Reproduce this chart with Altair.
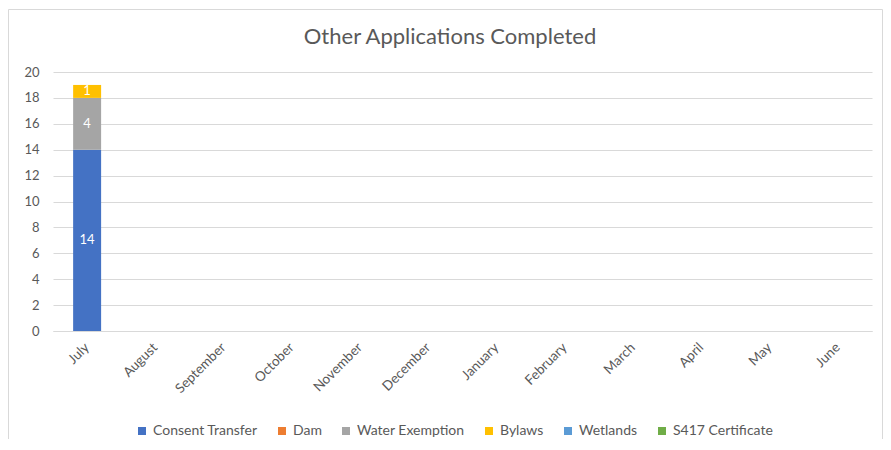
import altair as alt
import pandas as pd

months = ["July", "August", "September", "October", "November", "December",
          "January", "February", "March", "April", "May", "June"]
series = ["Consent Transfer", "Dam", "Water Exemption", "Bylaws", "Wetlands", "S417 Certificate"]
colors = ["#4472C4", "#ED7D31", "#A5A5A5", "#FFC000", "#5B9BD5", "#70AD47"]
y_ticks = [0, 2, 4, 6, 8, 10, 12, 14, 16, 18, 20]
title_text = ["Other Applications Completed"]

consent_transfer = [14, 0, 0, 0, 0, 0, 0, 0, 0, 0, 0, 0]
dam = [0, 0, 0, 0, 0, 0, 0, 0, 0, 0, 0, 0]
water_exemption = [4, 0, 0, 0, 0, 0, 0, 0, 0, 0, 0, 0]
bylaws = [1, 0, 0, 0, 0, 0, 0, 0, 0, 0, 0, 0]
wetlands = [0, 0, 0, 0, 0, 0, 0, 0, 0, 0, 0, 0]
s417 = [0, 0, 0, 0, 0, 0, 0, 0, 0, 0, 0, 0]

values = [consent_transfer, dam, water_exemption, bylaws, wetlands, s417]
rows = []
for si, (s, vals) in enumerate(zip(series, values)):
    for m, v in zip(months, vals):
        rows.append({"month": m, "series": s, "order": si, "value": v})
df = pd.DataFrame(rows)

FONT = "Lato"
GREY = "#595959"

y_axis = alt.Axis(values=y_ticks, domain=False, ticks=False, labelOverlap=False,
                  gridColor="#d9d9d9", labelColor=GREY, labelFontSize=13,
                  labelFont=FONT, labelPadding=14)
y_scale = alt.Scale(domain=[0, 20])
x_axis = alt.Axis(labelAngle=-45, labelAlign="right", labelBaseline="middle",
                  labelPadding=14, ticks=False, domainColor="#d9d9d9",
                  labelColor=GREY, labelFontSize=13.5, labelFont=FONT, grid=False)
x_scale = alt.Scale(paddingInner=0.59, paddingOuter=0.295)

bars = alt.Chart(df).mark_bar().encode(
    x=alt.X("month:N", sort=months, title=None, scale=x_scale, axis=x_axis),
    y=alt.Y("sum(value):Q", stack="zero", title=None, scale=y_scale, axis=y_axis),
    color=alt.Color("series:N", scale=alt.Scale(domain=series, range=colors),
                    legend=alt.Legend(orient="none", legendX=82, legendY=352,
                                      direction="horizontal", columns=6, title=None,
                                      symbolType="square", symbolSize=64,
                                      symbolStrokeWidth=0, labelFont=FONT,
                                      labelFontSize=14, labelColor=GREY,
                                      columnPadding=17, labelOffset=4)),
    order=alt.Order("order:Q"),
)

labels = alt.Chart(df).transform_filter(alt.datum.value > 0).mark_text(
    color="white", fontSize=13, font=FONT
).encode(
    x=alt.X("month:N", sort=months, title=None, scale=x_scale, axis=x_axis),
    y=alt.Y("sum(value):Q", stack="zero", bandPosition=0.5, title=None,
            scale=y_scale, axis=y_axis),
    detail="series:N",
    order=alt.Order("order:Q"),
    text=alt.Text("sum(value):Q"),
)

frame = alt.Chart(pd.DataFrame({"a": [0]})).mark_rect(
    fill=None, stroke="#d9d9d9", strokeWidth=1
).encode(
    x=alt.value(-44.5), x2=alt.value(829.5), y=alt.value(-62.5), y2=alt.value(369)
)

title = alt.Chart(pd.DataFrame({"t": title_text})).mark_text(
    fontSize=22, font=FONT, color=GREY, align="center", baseline="alphabetic"
).encode(
    x=alt.value(397), y=alt.value(-28), text="t:N"
)

chart = alt.layer(frame, bars, labels, title).properties(
    width=819, height=259,
    autosize=alt.AutoSizeParams(type="none"),
    padding={"left": 45, "top": 64, "right": 11, "bottom": 108},
).configure_view(stroke=None)

chart.save("out.html", embed_options={"renderer": "svg", "actions": False})
